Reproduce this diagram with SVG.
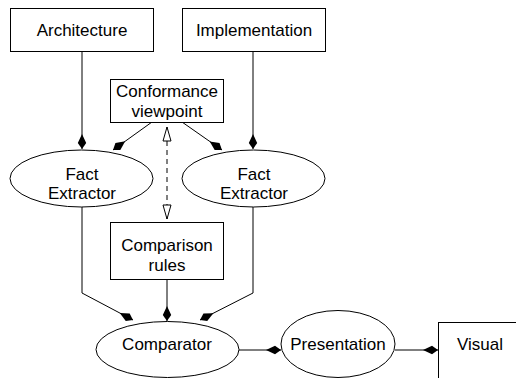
<svg xmlns="http://www.w3.org/2000/svg" width="516" height="378" viewBox="0 0 516 378">
<style>
.n{fill:#fff;stroke:#000;stroke-width:1}
.t{font-family:"Liberation Sans",Arial,sans-serif;font-size:17px;fill:#000;text-anchor:middle}
.c{fill:none;stroke:#000;stroke-width:1}
.d{fill:none;stroke:#000;stroke-width:1;stroke-dasharray:5,4}
</style>
<defs>
<marker id="dia" viewBox="-15 -5 16 10" refX="0" refY="0" markerWidth="16" markerHeight="10" markerUnits="userSpaceOnUse" orient="auto">
<path d="M0,0 L-6,-4.2 L-15,0 L-6,4.2 z" fill="#000"/>
</marker>
<marker id="tri" viewBox="-15 -5 16 10" refX="0" refY="0" markerWidth="16" markerHeight="10" markerUnits="userSpaceOnUse" orient="auto">
<path d="M0,0 L-14,-4 L-14,4 z" fill="#fff" stroke="#000" stroke-width="1"/>
</marker>
</defs>
<g id="connectors">
<path class="c" d="M82,51 V149" marker-end="url(#dia)"/>
<path class="c" d="M253,51 V149" marker-end="url(#dia)"/>
<path class="c" d="M152,122 L113,150" marker-end="url(#dia)"/>
<path class="c" d="M182,122 L222,150" marker-end="url(#dia)"/>
<path class="d" d="M167,141 V205"/>
<path class="c" d="M167,141 V127" marker-end="url(#tri)"/>
<path class="c" d="M167,205 V219" marker-end="url(#tri)"/>
<path class="c" d="M82,207 V293 L133,320" marker-end="url(#dia)"/>
<path class="c" d="M253,207 V293 L200,320" marker-end="url(#dia)"/>
<path class="c" d="M167,279 V321" marker-end="url(#dia)"/>
<path class="c" d="M239,350 H281" marker-end="url(#dia)"/>
<path class="c" d="M395,350 H438" marker-end="url(#dia)"/>
</g>
<g id="architecture"><rect class="n" x="10.5" y="8.5" width="143" height="43"/><text class="t" x="82" y="36">Architecture</text></g>
<g id="implementation"><rect class="n" x="182.5" y="8.5" width="143" height="43"/><text class="t" x="254" y="36">Implementation</text></g>
<g id="conformance"><rect class="n" x="110.5" y="79.5" width="113" height="43"/><text class="t" x="167" y="97">Conformance</text><text class="t" x="167" y="117">viewpoint</text></g>
<g id="fact1"><ellipse class="n" cx="81.5" cy="178.5" rx="71.5" ry="28.5"/><text class="t" x="82" y="180">Fact</text><text class="t" x="82" y="199">Extractor</text></g>
<g id="fact2"><ellipse class="n" cx="253.5" cy="178.5" rx="71.5" ry="28.5"/><text class="t" x="254" y="180">Fact</text><text class="t" x="254" y="199">Extractor</text></g>
<g id="rules"><rect class="n" x="110.5" y="222.5" width="113" height="57"/><text class="t" x="167" y="251">Comparison</text><text class="t" x="167" y="271">rules</text></g>
<g id="comparator"><ellipse class="n" cx="167.5" cy="349.5" rx="71.5" ry="28"/><text class="t" x="167" y="350">Comparator</text></g>
<g id="presentation"><ellipse class="n" cx="338" cy="344" rx="57" ry="33.5"/><text class="t" x="338" y="350">Presentation</text></g>
<g id="visual"><rect class="n" x="438.5" y="322.5" width="90" height="70"/><text class="t" x="480" y="350">Visual</text></g>
</svg>
